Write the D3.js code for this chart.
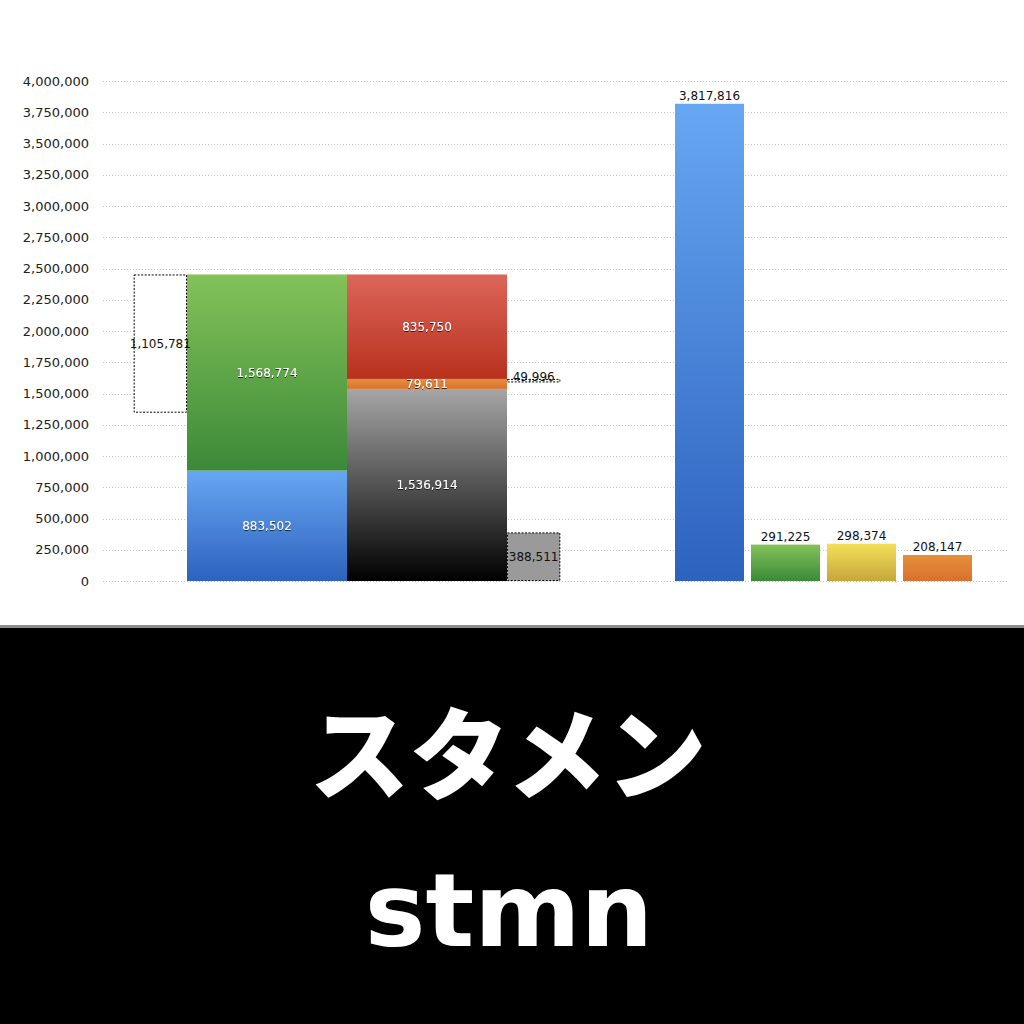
<!DOCTYPE html>
<html>
<head>
<meta charset="utf-8">
<script src="https://cdn.jsdelivr.net/npm/d3@7"></script>
<style>
  html, body { margin: 0; padding: 0; background: #fff; }
  svg { display: block; }
  .tick text { font-family: "DejaVu Sans", sans-serif; font-size: 13px; fill: #222; }
  .val { font-family: "DejaVu Sans", sans-serif; font-size: 12px; }
</style>
</head>
<body>
<div id="chart"></div>
<script>
// y axis ticks
const yTicks = [0, 250000, 500000, 750000, 1000000, 1250000, 1500000, 1750000,
  2000000, 2250000, 2500000, 2750000, 3000000, 3250000, 3500000, 3750000, 4000000]

// left group: two stacked columns
const stackCols = ["A", "B"]
const stackSegs = [
  { col: "A", name: "blue",  value: 883502 },
  { col: "A", name: "green", value: 1568774 },
  { col: "B", name: "black", value: 1536914 },
  { col: "B", name: "orange", value: 79611 },
  { col: "B", name: "red", value: 835750 }
]
// dashed "difference" boxes next to the columns
const gapValue = 1105781   // left of column A, hanging from its top
const smallGap = 49996     // right of column B, at the orange top
const restValue = 388511   // right of column B, from zero

// right group
const rightCats = ["blue", "green", "yellow", "orange"]
const rightValues = [3817816, 291225, 298374, 208147]

const titleJa = "スタメン"
const titleEn = "stmn"

const fmt = d3.format(",")

const width = 1024, height = 1024
const svg = d3.select("#chart").append("svg")
  .attr("width", width)
  .attr("height", height)

// gradients, top -> bottom
const grads = {
  blue: ["#67a7f2", "#2d62bf"],
  green: ["#84c259", "#3b8a38"],
  red: ["#dc665a", "#b8311d"],
  orange: ["#e6903b", "#d8702e"],
  yellow: ["#f3e05a", "#c6a63a"],
  black: ["#a6a6a6", "#000000"]
}
const defs = svg.append("defs")
Object.entries(grads).forEach(([k, c]) => {
  const g = defs.append("linearGradient")
    .attr("id", "g-" + k)
    .attr("x1", 0).attr("y1", 0).attr("x2", 0).attr("y2", 1)
  g.append("stop").attr("offset", "0%").attr("stop-color", c[0])
  g.append("stop").attr("offset", "100%").attr("stop-color", c[1])
})
const shadow = defs.append("filter").attr("id", "txtshadow")
  .attr("x", "-20%").attr("y", "-50%").attr("width", "140%").attr("height", "200%")
shadow.append("feDropShadow")
  .attr("dx", 0).attr("dy", 1).attr("stdDeviation", 0.6)
  .attr("flood-color", "#000").attr("flood-opacity", 0.7)

const y = d3.scaleLinear().domain([0, 4000000]).range([581, 81])

// grid + axis
const yAxis = d3.axisLeft(y)
  .tickValues(yTicks)
  .tickFormat(fmt)
  .tickSize(0)
  .tickPadding(0)
svg.append("g")
  .attr("transform", "translate(89,0)")
  .call(yAxis)
  .call(g => g.select(".domain").remove())

svg.append("g")
  .selectAll("line")
  .data(yTicks)
  .join("line")
  .attr("x1", 103).attr("x2", 1007)
  .attr("y1", d => Math.round(y(d)) + 0.5)
  .attr("y2", d => Math.round(y(d)) + 0.5)
  .attr("stroke", "#c8c8c8")
  .attr("stroke-dasharray", "1,2")

// left stacked columns
const xLeft = d3.scaleBand().domain(stackCols).range([187, 507]).padding(0)
const sideW = xLeft.bandwidth() / 3

let base = {}
const segs = stackSegs.map(d => {
  const y0 = base[d.col] || 0
  base[d.col] = y0 + d.value
  return { ...d, y0, y1: y0 + d.value }
})

const left = svg.append("g")
left.selectAll("rect")
  .data(segs)
  .join("rect")
  .attr("x", d => xLeft(d.col))
  .attr("width", xLeft.bandwidth())
  .attr("y", d => y(d.y1))
  .attr("height", d => y(d.y0) - y(d.y1))
  .attr("fill", d => `url(#g-${d.name})`)

left.selectAll("text")
  .data(segs)
  .join("text")
  .attr("class", "val")
  .attr("x", d => xLeft(d.col) + xLeft.bandwidth() / 2)
  .attr("y", d => (y(d.y0) + y(d.y1)) / 2)
  .attr("dy", "0.35em")
  .attr("text-anchor", "middle")
  .attr("fill", "#fff")
  .attr("filter", "url(#txtshadow)")
  .text(d => fmt(d.value))

// dashed boxes
const topA = base["A"]
const orangeTop = segs.find(d => d.name === "orange").y1
const boxes = [
  { x: xLeft("A") - sideW, y0: topA - gapValue, y1: topA, fill: "#fff", v: gapValue },
  { x: xLeft("B") + xLeft.bandwidth(), y0: orangeTop - smallGap, y1: orangeTop, fill: "none", v: smallGap, above: true },
  { x: xLeft("B") + xLeft.bandwidth(), y0: 0, y1: restValue, fill: "#9a9a9a", v: restValue }
]
const side = svg.append("g")
side.selectAll("rect")
  .data(boxes)
  .join("rect")
  .attr("x", d => d.x + 0.5)
  .attr("width", sideW - 1)
  .attr("y", d => y(d.y1) + 0.5)
  .attr("height", d => d.above ? 2.5 : y(d.y0) - y(d.y1) - 1)
  .attr("fill", d => d.fill)
  .attr("stroke", "#000")
  .attr("stroke-width", 1)
  .attr("stroke-dasharray", "2,1.5")
side.selectAll("text")
  .data(boxes)
  .join("text")
  .attr("class", "val")
  .attr("x", d => d.x + sideW / 2)
  .attr("y", d => d.above ? y(d.y1) + 2 : (y(d.y0) + y(d.y1)) / 2)
  .attr("dy", d => d.above ? 0 : "0.35em")
  .attr("text-anchor", "middle")
  .attr("fill", "#111")
  .text(d => fmt(d.v))

// right group
const xRight = d3.scaleBand().domain(rightCats).range([675, 972])
  .paddingInner(7 / 76).paddingOuter(0)
const right = svg.append("g")
right.selectAll("rect")
  .data(rightValues)
  .join("rect")
  .attr("x", (d, i) => xRight(rightCats[i]))
  .attr("width", xRight.bandwidth())
  .attr("y", d => y(d))
  .attr("height", d => y(0) - y(d))
  .attr("fill", (d, i) => `url(#g-${rightCats[i]})`)
right.selectAll("text")
  .data(rightValues)
  .join("text")
  .attr("class", "val")
  .attr("x", (d, i) => xRight(rightCats[i]) + xRight.bandwidth() / 2)
  .attr("y", d => y(d) - 4)
  .attr("text-anchor", "middle")
  .attr("fill", "#111")
  .text(d => fmt(d))

// title band
svg.append("rect")
  .attr("x", 0).attr("y", 625).attr("width", width).attr("height", 3)
  .attr("fill", "#8c8c8c")
svg.append("rect")
  .attr("x", 0).attr("y", 628).attr("width", width).attr("height", height - 628)
  .attr("fill", "#000")
svg.append("text")
  .attr("x", 508).attr("y", 792)
  .attr("text-anchor", "middle")
  .attr("font-family", "'Noto Sans CJK JP', sans-serif")
  .attr("font-weight", 900)
  .attr("font-size", 100)
  .attr("fill", "#fff")
  .text(titleJa)
svg.append("text")
  .attr("x", 509).attr("y", 946)
  .attr("text-anchor", "middle")
  .attr("font-family", "'DejaVu Sans', sans-serif")
  .attr("font-weight", "bold")
  .attr("font-size", 102)
  .attr("fill", "#fff")
  .text(titleEn)
</script>
</body>
</html>
